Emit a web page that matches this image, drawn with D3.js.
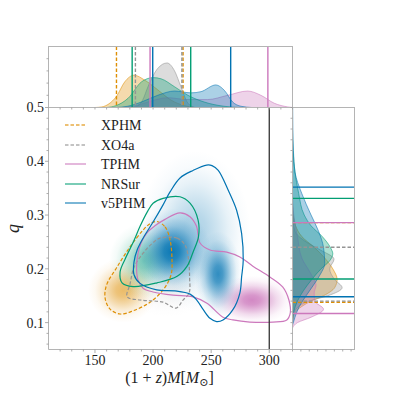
<!DOCTYPE html>
<html>
<head>
<meta charset="utf-8">
<script src="https://cdn.jsdelivr.net/npm/d3@7"></script>
<style>
	body { margin: 0; background: #fff; }
	svg { display: block; }
	svg text { font-family: 'Liberation Serif', 'DejaVu Serif', serif; fill: #222; }
</style>
</head>
<body>
<div id="chart"></div>
<script>
// Models, in legend order
const models = ['XPHM', 'XO4a', 'TPHM', 'NRSur', 'v5PHM'];

// Top marginal: (1+z)M against density
const massXPHM = [[150, 0], [156, 0.01], [162, 0.06], [168.4, 0.18], [175.6, 0.42], [183.6, 0.53], [192.7, 0.45], [204, 0.29], [215.6, 0.12], [227, 0.03], [236, 0]];
const massXO4a = [[182, 0], [187, 0.03], [191, 0.12], [195.6, 0.34], [204, 0.64], [212, 0.73], [218.5, 0.6], [224, 0.34], [230, 0.07], [236, 0]];
const massTPHM = [[175, 0], [185, 0.03], [195.6, 0.09], [212.7, 0.16], [230, 0.13], [247, 0.13], [264.3, 0.2], [281.4, 0.27], [292.8, 0.2], [304.3, 0.07], [315.8, 0.01], [320, 0]];
const massNRSur = [[160, 0], [168, 0.03], [178.4, 0.15], [190, 0.42], [200, 0.49], [207, 0.47], [218.5, 0.34], [230, 0.2], [244, 0.09], [261, 0.02], [275, 0]];
const massV5PHM = [[168, 0], [178, 0.02], [190, 0.09], [204, 0.2], [218.5, 0.27], [232.7, 0.24], [241.3, 0.26], [254, 0.37], [261.4, 0.28], [268.5, 0.09], [275.7, 0.02], [285, 0]];

// Right marginal: q against density
const qXPHM = [[0.32, 0], [0.30, 0.01], [0.28, 0.05], [0.26, 0.15], [0.24, 0.35], [0.22, 0.52], [0.20, 0.65], [0.18, 0.72], [0.165, 0.68], [0.15, 0.5], [0.14, 0.3], [0.13, 0.15], [0.12, 0.05], [0.10, 0]];
const qXO4a = [[0.30, 0], [0.27, 0.04], [0.25, 0.22], [0.235, 0.45], [0.218, 0.67], [0.20, 0.6], [0.18, 0.68], [0.165, 0.8], [0.15, 0.57], [0.14, 0.27], [0.13, 0.1], [0.12, 0.03], [0.11, 0]];
const qTPHM = [[0.34, 0], [0.30, 0.02], [0.26, 0.08], [0.22, 0.15], [0.19, 0.3], [0.17, 0.38], [0.155, 0.35], [0.14, 0.36], [0.125, 0.5], [0.11, 0.3], [0.10, 0.08], [0.09, 0]];
const qNRSur = [[0.46, 0], [0.42, 0.01], [0.38, 0.04], [0.34, 0.1], [0.30, 0.19], [0.28, 0.3], [0.26, 0.48], [0.24, 0.61], [0.228, 0.65], [0.215, 0.6], [0.20, 0.46], [0.18, 0.31], [0.16, 0.18], [0.14, 0.08], [0.12, 0.02], [0.10, 0]];
const qV5PHM = [[0.5, 0.003], [0.46, 0.006], [0.42, 0.015], [0.38, 0.04], [0.34, 0.15], [0.30, 0.3], [0.27, 0.42], [0.24, 0.5], [0.21, 0.52], [0.19, 0.45], [0.17, 0.34], [0.15, 0.22], [0.13, 0.11], [0.11, 0.04], [0.095, 0]];

// 90% intervals, same order as models
const massIntervals = [[168.5, 225.8], [184.8, 224.8], [197.4, 298.8], [182, 232.4], [199.7, 266.8]];
const qIntervals = [[0.138, 0.286], [0.140, 0.240], [0.117, 0.286], [0.181, 0.331], [0.148, 0.352]];

// 90% contours in the (M, q) plane
const contourXPHM = [[203.4, 0.288], [210.3, 0.278], [214.6, 0.254], [216.3, 0.216], [215.5, 0.189], [209.4, 0.163], [197.4, 0.138], [182.8, 0.122], [171.6, 0.116], [163, 0.125], [158.7, 0.146], [160, 0.170], [168.6, 0.202], [180.2, 0.241], [191.4, 0.272], [197.4, 0.284]];
const contourXO4a = [[206, 0.257], [220.7, 0.257], [227.6, 0.244], [230.6, 0.216], [231.4, 0.185], [231, 0.155], [225.8, 0.142], [219.7, 0.127], [208.6, 0.138], [188.8, 0.142], [177.7, 0.148], [180.2, 0.172], [183.6, 0.203], [191.4, 0.229], [199.1, 0.247]];
const contourTPHM = [[223.2, 0.304], [231.8, 0.297], [237.4, 0.279], [240.4, 0.248], [249, 0.235], [263.4, 0.231], [274.7, 0.222], [285.9, 0.205], [300.5, 0.185], [311.7, 0.166], [316.9, 0.142], [318.1, 0.118], [315.1, 0.105], [303.1, 0.101], [283.3, 0.101], [268.7, 0.105], [260.2, 0.110], [246.4, 0.136], [234.4, 0.148], [217.2, 0.151], [200, 0.157], [191.4, 0.164], [187.1, 0.179], [185.8, 0.202], [187.1, 0.229], [189.7, 0.248], [194.8, 0.267], [201.6, 0.280], [210.3, 0.292]];
const contourNRSur = [[208.6, 0.331], [223.2, 0.334], [231.8, 0.322], [238.7, 0.291], [239.1, 0.260], [234.4, 0.231], [229.3, 0.205], [220.7, 0.186], [203.4, 0.174], [182.8, 0.167], [173.3, 0.174], [171.6, 0.194], [175.9, 0.218], [182.8, 0.249], [188.8, 0.279], [194.8, 0.305], [200, 0.322]];
const contourV5PHM = [[234.4, 0.383], [246.1, 0.393], [250.7, 0.392], [256.1, 0.383], [264.7, 0.346], [271.9, 0.309], [276.2, 0.266], [277.6, 0.216], [276.2, 0.185], [274.7, 0.155], [268.7, 0.124], [260.2, 0.105], [254.7, 0.102], [249, 0.108], [243.2, 0.124], [237.6, 0.142], [231.8, 0.153], [218.9, 0.159], [203.2, 0.161], [188.8, 0.173], [183.6, 0.189], [183.6, 0.213], [186.3, 0.235], [191.4, 0.257], [200, 0.287], [208.6, 0.319], [214.6, 0.343], [223.2, 0.369]];

// Density concentrations: [M, q, spread in M, spread in q, strength]
const blobsXPHM = [[174, 0.16, 30, 0.06, 0.6]];
const blobsXO4a = [[212, 0.16, 34, 0.05, 0.12]];
const blobsTPHM = [[285, 0.142, 36, 0.045, 0.88]];
const blobsNRSur = [[192, 0.215, 30, 0.07, 0.5]];
const blobsV5PHM = [[236, 0.27, 48, 0.15, 0.32], [216, 0.232, 34, 0.08, 0.95], [256, 0.19, 20, 0.08, 0.8]];

// Axis ticks
const massTicks = [150, 200, 250, 300];
const qTicks = [0.1, 0.2, 0.3, 0.4, 0.5];
const massLine = 300;

const series = [
	{ name: 'XPHM', mass: massXPHM, q: qXPHM, contour: contourXPHM, blobs: blobsXPHM },
	{ name: 'XO4a', mass: massXO4a, q: qXO4a, contour: contourXO4a, blobs: blobsXO4a },
	{ name: 'TPHM', mass: massTPHM, q: qTPHM, contour: contourTPHM, blobs: blobsTPHM },
	{ name: 'NRSur', mass: massNRSur, q: qNRSur, contour: contourNRSur, blobs: blobsNRSur },
	{ name: 'v5PHM', mass: massV5PHM, q: qV5PHM, contour: contourV5PHM, blobs: blobsV5PHM },
];
series.forEach((s, i) => {
	s.massCI = massIntervals[i];
	s.qCI = qIntervals[i];
});

// Attribute
const width = 393;
const height = 393;
const font = "'Liberation Serif', 'DejaVu Serif', serif";
const colors = {
	XPHM: '#de8f05',
	XO4a: '#949494',
	TPHM: '#cc78bc',
	NRSur: '#029e73',
	v5PHM: '#0173b2',
};
const dashes = { XPHM: '3.5,2', XO4a: '3.5,2' };
const main = { left: 48.5, right: 292.5, top: 107.5, bottom: 349.5 };
const topTop = 46.5;
const rightEdge = 354.5;
const spine = '#b4b4b4';

const svg = d3.select('#chart').append('svg')
	.attr('width', width)
	.attr('height', height)
	.attr('viewBox', [0, 0, width, height])
	.attr('font-family', font);

const x = d3.scaleLinear().domain([110, 320]).range([main.left, main.right]);
const y = d3.scaleLinear().domain([0.05, 0.5]).range([main.bottom, main.top]);
const yTop = d3.scaleLinear().domain([0, 1]).range([main.top, topTop]);
const xRight = d3.scaleLinear().domain([0, 1]).range([main.right, rightEdge]);

const defs = svg.append('defs');
defs.append('clipPath').attr('id', 'clip-main').append('rect')
	.attr('x', main.left).attr('y', main.top)
	.attr('width', main.right - main.left).attr('height', main.bottom - main.top);
defs.append('clipPath').attr('id', 'clip-top').append('rect')
	.attr('x', main.left).attr('y', topTop)
	.attr('width', main.right - main.left).attr('height', main.top - topTop);
defs.append('clipPath').attr('id', 'clip-right').append('rect')
	.attr('x', main.right).attr('y', main.top)
	.attr('width', rightEdge - main.right).attr('height', main.bottom - main.top);

// Main panel: shaded density
const mainG = svg.append('g').attr('clip-path', 'url(#clip-main)');
let blobId = 0;
series.forEach((s) => {
	s.blobs.forEach((b) => {
		const id = 'blob' + blobId++;
		defs.append('radialGradient').attr('id', id)
			.selectAll('stop')
			.data([[0, 1], [0.2, 0.88], [0.4, 0.6], [0.6, 0.3], [0.8, 0.09], [1, 0]])
			.join('stop')
			.attr('offset', (d) => d[0])
			.attr('stop-color', colors[s.name])
			.attr('stop-opacity', (d) => d[1] * b[4]);
		mainG.append('ellipse')
			.attr('cx', x(b[0]))
			.attr('cy', y(b[1]))
			.attr('rx', x(b[0] + b[2]) - x(b[0]))
			.attr('ry', y(b[1]) - y(b[1] + b[3]))
			.attr('fill', `url(#${id})`);
	});
});

// Main panel: contours
const contourLine = d3.line()
	.x((d) => x(d[0]))
	.y((d) => y(d[1]))
	.curve(d3.curveCatmullRomClosed.alpha(0.5));
mainG.selectAll('path.contour')
	.data(series)
	.join('path')
	.attr('class', 'contour')
	.attr('d', (d) => contourLine(d.contour))
	.attr('fill', 'none')
	.attr('stroke', (d) => colors[d.name])
	.attr('stroke-width', 1.2)
	.attr('stroke-dasharray', (d) => dashes[d.name] || null);

mainG.append('line')
	.attr('x1', x(massLine)).attr('x2', x(massLine))
	.attr('y1', main.top).attr('y2', main.bottom)
	.attr('stroke', '#333')
	.attr('stroke-width', 1.3);

// Legend
const legend = svg.append('g').attr('class', 'legend');
const legendRow = legend.selectAll('g.row')
	.data(series)
	.join('g')
	.attr('class', 'row')
	.attr('transform', (d, i) => `translate(0, ${125 + Math.round(i * 19.5)})`);
legendRow.append('line')
	.attr('x1', 65).attr('x2', 86)
	.attr('y1', 0).attr('y2', 0)
	.attr('stroke', (d) => colors[d.name])
	.attr('stroke-opacity', 0.75)
	.attr('stroke-width', 1.4)
	.attr('stroke-dasharray', (d) => dashes[d.name] || null);
legendRow.append('text')
	.attr('x', 101)
	.attr('dy', '0.35em')
	.attr('font-size', 14)
	.text((d) => d.name);

// Top marginal
const topG = svg.append('g').attr('clip-path', 'url(#clip-top)');
const massArea = d3.area()
	.x((d) => x(d[0]))
	.y0(yTop(0))
	.y1((d) => yTop(d[1]))
	.curve(d3.curveMonotoneX);
topG.selectAll('path.kde')
	.data(series)
	.join('path')
	.attr('class', 'kde')
	.attr('d', (d) => massArea(d.mass))
	.attr('fill', (d) => colors[d.name])
	.attr('fill-opacity', 0.33)
	.attr('stroke', (d) => colors[d.name])
	.attr('stroke-opacity', 0.7)
	.attr('stroke-width', 0.8);
series.forEach((s) => {
	topG.selectAll(null)
		.data(s.massCI)
		.join('line')
		.attr('x1', (d) => x(d)).attr('x2', (d) => x(d))
		.attr('y1', topTop).attr('y2', main.top)
		.attr('stroke', colors[s.name])
		.attr('stroke-width', 1.4)
		.attr('stroke-dasharray', dashes[s.name] || null);
});

// Right marginal
const rightG = svg.append('g').attr('clip-path', 'url(#clip-right)');
const qArea = d3.area()
	.y((d) => y(d[0]))
	.x0(xRight(0))
	.x1((d) => xRight(d[1]))
	.curve(d3.curveMonotoneY);
rightG.selectAll('path.kde')
	.data(series)
	.join('path')
	.attr('class', 'kde')
	.attr('d', (d) => qArea(d.q))
	.attr('fill', (d) => colors[d.name])
	.attr('fill-opacity', 0.33)
	.attr('stroke', (d) => colors[d.name])
	.attr('stroke-opacity', 0.7)
	.attr('stroke-width', 0.8);
series.forEach((s) => {
	rightG.selectAll(null)
		.data(s.qCI)
		.join('line')
		.attr('y1', (d) => y(d)).attr('y2', (d) => y(d))
		.attr('x1', main.right).attr('x2', rightEdge)
		.attr('stroke', colors[s.name])
		.attr('stroke-width', 1.4)
		.attr('stroke-dasharray', dashes[s.name] || null);
});

// Frames
const frame = svg.append('g').attr('fill', 'none').attr('stroke', spine).attr('stroke-width', 1);
frame.append('rect').attr('x', main.left).attr('y', topTop)
	.attr('width', main.right - main.left).attr('height', main.top - topTop);
frame.append('rect').attr('x', main.right).attr('y', main.top)
	.attr('width', rightEdge - main.right).attr('height', main.bottom - main.top);
frame.append('line').attr('x1', main.left).attr('x2', main.left).attr('y1', main.top).attr('y2', main.bottom);
frame.append('line').attr('x1', main.left).attr('x2', main.right).attr('y1', main.bottom).attr('y2', main.bottom);

// Ticks
const tickG = svg.append('g').attr('stroke', '#999').attr('stroke-width', 0.8);
function hTicks(values, px, y0, len) {
	tickG.selectAll(null).data(values).join('line')
		.attr('x1', (d) => px(d)).attr('x2', (d) => px(d))
		.attr('y1', y0).attr('y2', (d) => y0 + len(d));
}
function vTicks(values, py, x0, len) {
	tickG.selectAll(null).data(values).join('line')
		.attr('y1', (d) => py(d)).attr('y2', (d) => py(d))
		.attr('x1', x0).attr('x2', (d) => x0 - len(d));
}
const isMajorM = (d) => massTicks.includes(d);
const isMajorQ = (d) => qTicks.some((t) => Math.abs(t - d) < 1e-6);
const mAll = d3.range(120, 321, 10);
const qAll = d3.range(0.06, 0.501, 0.02);
hTicks(mAll, x, main.bottom, (d) => (isMajorM(d) ? 3.5 : 2));
vTicks(qAll, y, main.left, (d) => (isMajorQ(d) ? 3.5 : 2));
hTicks(mAll, x, main.top, () => 2);
vTicks(qAll, y, main.right, () => 2);
vTicks(d3.range(0.2, 0.95, 0.2), yTop, main.left, () => 2);
hTicks(d3.range(0.135, 0.95, 0.135), xRight, main.bottom, () => 2);

// Tick labels
svg.append('g').selectAll('text')
	.data(massTicks)
	.join('text')
	.attr('x', (d) => x(d))
	.attr('y', 365)
	.attr('text-anchor', 'middle')
	.attr('font-size', 14)
	.text((d) => d);
svg.append('g').selectAll('text')
	.data(qTicks)
	.join('text')
	.attr('x', 44)
	.attr('y', (d) => y(d))
	.attr('dy', '0.35em')
	.attr('text-anchor', 'end')
	.attr('font-size', 14)
	.text((d) => d3.format('.1f')(d));

// Axis labels
const xLabel = svg.append('text')
	.attr('x', (main.left + main.right) / 2 - 1)
	.attr('y', 383)
	.attr('text-anchor', 'middle')
	.attr('font-size', 16);
xLabel.append('tspan').text('(1 + ');
xLabel.append('tspan').attr('font-style', 'italic').text('z');
xLabel.append('tspan').text(')');
xLabel.append('tspan').attr('font-style', 'italic').text('M');
xLabel.append('tspan').text('[');
xLabel.append('tspan').attr('font-style', 'italic').text('M');
xLabel.append('tspan').attr('font-size', 11).attr('dy', 3).text('\u2299');
xLabel.append('tspan').attr('dy', -3).text(']');

svg.append('text')
	.attr('transform', `translate(19, ${(main.top + main.bottom) / 2}) rotate(-90)`)
	.attr('text-anchor', 'middle')
	.attr('font-size', 18)
	.attr('font-style', 'italic')
	.text('q');
</script>
</body>
</html>
